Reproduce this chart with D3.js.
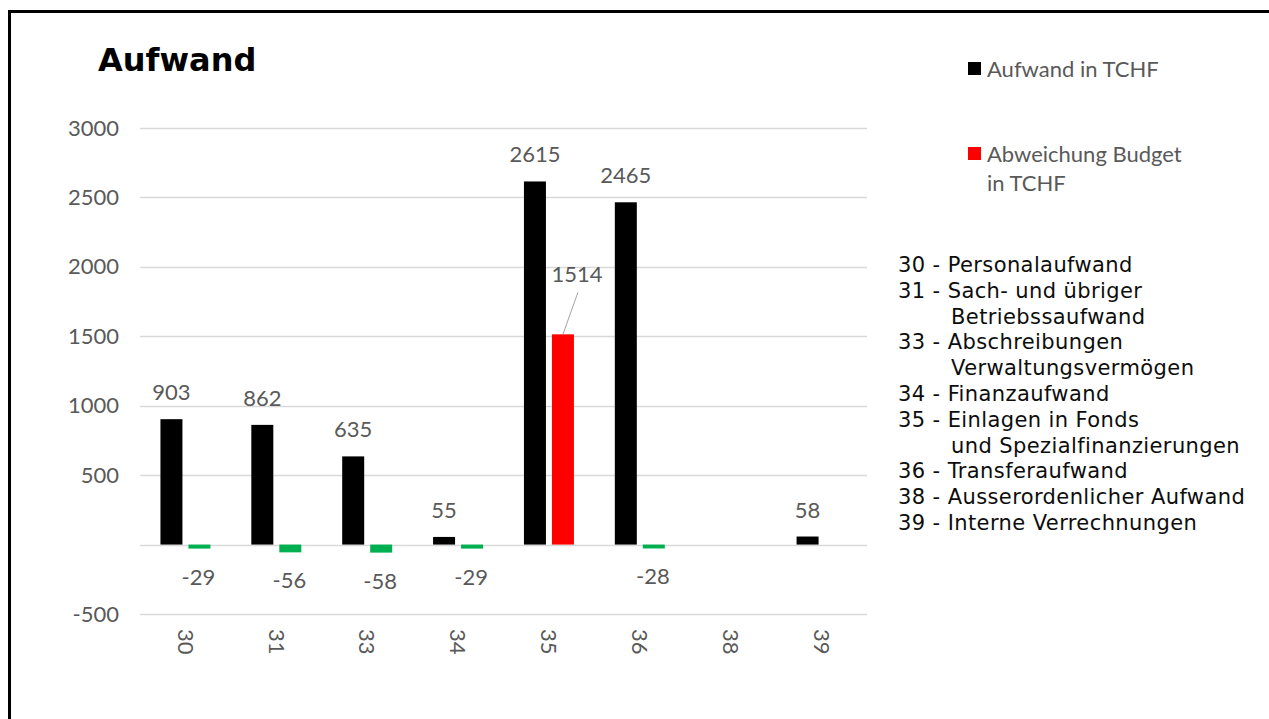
<!DOCTYPE html>
<html>
<head>
<meta charset="utf-8">
<script src="https://cdn.jsdelivr.net/npm/d3@7"></script>
<style>
	body { margin: 0; background: #fff; }
	svg { display: block; }
</style>
</head>
<body>
<div id="chart"></div>
<script>
const categories = ["30", "31", "33", "34", "35", "36", "38", "39"];
const aufwand = [903, 862, 635, 55, 2615, 2465, null, 58];
const abweichung = [-29, -56, -58, -29, 1514, -28, null, null];
const yTickLabels = [-500, 500, 1000, 1500, 2000, 2500, 3000];
const gridValues = [-500, 0, 500, 1000, 1500, 2000, 2500, 3000];
const legendNames = [["Aufwand in TCHF"], ["Abweichung Budget", "in TCHF"]];
const kontoLines = [
	["30 - Personalaufwand", 0],
	["31 - Sach- und übriger", 0],
	["Betriebssaufwand", 1],
	["33 - Abschreibungen", 0],
	["Verwaltungsvermögen", 1],
	["34 - Finanzaufwand", 0],
	["35 - Einlagen in Fonds", 0],
	["und Spezialfinanzierungen", 1],
	["36 - Transferaufwand", 0],
	["38 - Ausserordenlicher Aufwand", 0],
	["39 - Interne Verrechnungen", 0],
];

const BLACK = "#000000";
const RED = "#ff0000";
const GREEN = "#00b050";
const GREY_TEXT = "#595959";
const GRID = "#d9d9d9";
const LABEL_FONT = "Lato, 'Open Sans', sans-serif";
const LABEL_SIZE = "22px";

let width = 1269,
	height = 719;

let svg = d3
	.select("#chart")
	.append("svg")
	.attr("width", width)
	.attr("height", height);

// frame (right and bottom edges run off the picture)
svg.append("rect")
	.attr("x", 9.5)
	.attr("y", 11.5)
	.attr("width", 1300)
	.attr("height", 800)
	.attr("fill", "none")
	.attr("stroke", "#000")
	.attr("stroke-width", 3);

svg.append("text")
	.text("Aufwand")
	.attr("x", 98)
	.attr("y", 71)
	.attr("font-family", "'DejaVu Sans', Verdana, sans-serif")
	.attr("font-weight", "bold")
	.attr("font-size", "32px")
	.attr("fill", "#000");

let x = d3
	.scaleBand()
	.domain(categories)
	.range([140, 867])
	.paddingInner(0.45)
	.paddingOuter(0.225);

let xInner = d3
	.scaleBand()
	.domain([0, 1])
	.range([0, x.bandwidth()])
	.paddingInner(0.214);

let y = d3.scaleLinear().domain([-500, 3000]).range([614, 128]);

// gridlines
svg.append("g")
	.selectAll("line")
	.data(gridValues)
	.join("line")
	.attr("x1", 140)
	.attr("x2", 867)
	.attr("y1", (d) => Math.round(y(d)) + 0.5)
	.attr("y2", (d) => Math.round(y(d)) + 0.5)
	.attr("stroke", GRID)
	.attr("stroke-width", 1.3);

// y axis labels (no label at 0)
let yAxis = svg
	.append("g")
	.attr("transform", "translate(140,0)")
	.call(
		d3
			.axisLeft(y)
			.tickValues(yTickLabels)
			.tickFormat((d) => String(d))
			.tickSize(0)
			.tickPadding(21)
	);
yAxis.select(".domain").remove();
yAxis.selectAll("text")
	.attr("font-family", LABEL_FONT)
	.attr("font-size", LABEL_SIZE)
	.attr("fill", GREY_TEXT);

// x axis labels, rotated
let xAxis = svg
	.append("g")
	.attr("transform", "translate(0,614)")
	.call(d3.axisBottom(x).tickSize(0));
xAxis.select(".domain").remove();
xAxis.selectAll("text")
	.attr("transform", "rotate(90)")
	.attr("x", 15)
	.attr("y", 0)
	.attr("dy", "0.35em")
	.attr("text-anchor", "start")
	.attr("font-family", LABEL_FONT)
	.attr("font-size", LABEL_SIZE)
	.attr("fill", GREY_TEXT);

let rows = categories.map(function (c, i) {
	return { cat: c, a: aufwand[i], b: abweichung[i] };
});

// Aufwand bars
svg.append("g")
	.selectAll("rect")
	.data(rows.filter((d) => d.a != null))
	.join("rect")
	.attr("x", (d) => x(d.cat) + xInner(0))
	.attr("width", xInner.bandwidth())
	.attr("y", (d) => y(Math.max(0, d.a)))
	.attr("height", (d) => Math.abs(y(d.a) - y(0)))
	.attr("fill", BLACK);

// Abweichung bars
svg.append("g")
	.selectAll("rect")
	.data(rows.filter((d) => d.b != null))
	.join("rect")
	.attr("x", (d) => x(d.cat) + xInner(1))
	.attr("width", xInner.bandwidth())
	.attr("y", (d) => y(Math.max(0, d.b)))
	.attr("height", (d) => Math.abs(y(d.b) - y(0)))
	.attr("fill", (d) => (d.b < 0 ? GREEN : RED));

// value labels
svg.append("g")
	.selectAll("text")
	.data(rows.filter((d) => d.a != null))
	.join("text")
	.text((d) => d.a)
	.attr("x", (d) => x(d.cat) + xInner(0) + xInner.bandwidth() / 2)
	.attr("y", (d) => y(d.a) - 19)
	.attr("text-anchor", "middle")
	.attr("font-family", LABEL_FONT)
	.attr("font-size", LABEL_SIZE)
	.attr("fill", GREY_TEXT);

let bLabels = svg.append("g");
rows.filter((d) => d.b != null).forEach(function (d) {
	const cx = x(d.cat) + xInner(1) + xInner.bandwidth() / 2;
	if (d.b < 0) {
		bLabels.append("text")
			.text(d.b)
			.attr("x", cx - 1)
			.attr("y", y(d.b) + 36)
			.attr("text-anchor", "middle")
			.attr("font-family", LABEL_FONT)
			.attr("font-size", LABEL_SIZE)
			.attr("fill", GREY_TEXT);
	} else {
		// label moved up-right with a leader line
		bLabels.append("line")
			.attr("x1", cx)
			.attr("y1", y(d.b))
			.attr("x2", cx + 15)
			.attr("y2", y(d.b) - 42)
			.attr("stroke", "#a6a6a6")
			.attr("stroke-width", 1);
		bLabels.append("text")
			.text(d.b)
			.attr("x", cx + 14)
			.attr("y", y(d.b) - 52)
			.attr("text-anchor", "middle")
			.attr("font-family", LABEL_FONT)
			.attr("font-size", LABEL_SIZE)
			.attr("fill", GREY_TEXT);
	}
});

// legend
let legend = svg.append("g").attr("transform", "translate(968,0)");
const legendColors = [BLACK, RED];
const legendTops = [62, 147];
legendNames.forEach(function (lines, i) {
	legend.append("rect")
		.attr("x", 0)
		.attr("y", legendTops[i])
		.attr("width", 13)
		.attr("height", 13)
		.attr("fill", legendColors[i]);
	lines.forEach(function (t, j) {
		legend.append("text")
			.text(t)
			.attr("x", 19)
			.attr("y", legendTops[i] + 15 + j * 29)
			.attr("font-family", LABEL_FONT)
			.attr("font-size", LABEL_SIZE)
			.attr("fill", GREY_TEXT);
	});
});

// account descriptions
svg.append("g")
	.selectAll("text")
	.data(kontoLines)
	.join("text")
	.text((d) => d[0])
	.attr("x", (d) => (d[1] ? 951 : 898))
	.attr("y", (d, i) => 272 + i * 25.8)
	.attr("font-family", "'DejaVu Sans', Verdana, sans-serif")
	.attr("font-size", "21px")
	.attr("letter-spacing", "0.4px")
	.attr("fill", "#0d0d0d");
</script>
</body>
</html>
